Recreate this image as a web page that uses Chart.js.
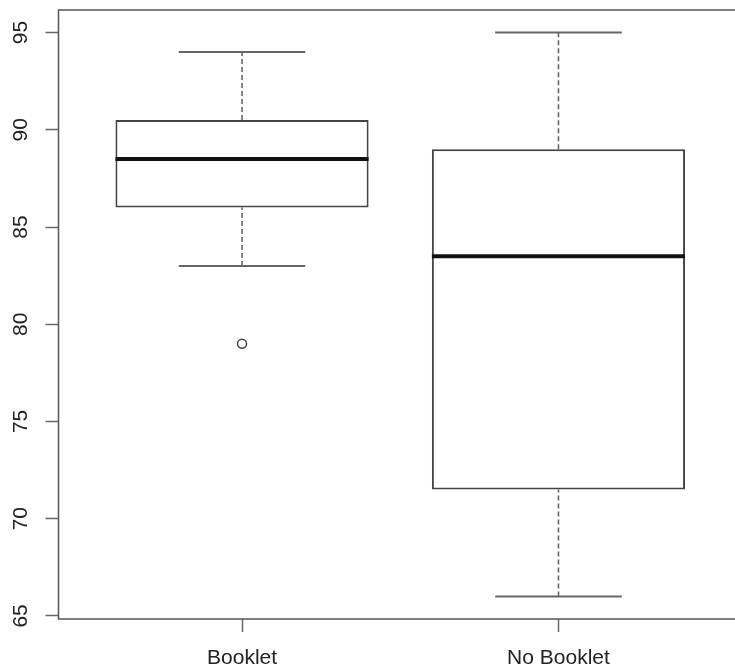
<!DOCTYPE html>
<html>
<head>
<meta charset="utf-8">
<script src="https://cdn.jsdelivr.net/npm/chart.js@4.4.1/dist/chart.umd.min.js"></script>
<style>
  html, body { margin: 0; padding: 0; overflow: hidden; background: #fff; }
  #wrap { width: 748px; height: 668px; position: relative; }
</style>
</head>
<body>
<div id="wrap"><canvas id="c"></canvas></div>
<script>
// ---- data ----
const categories   = ['Booklet', 'No Booklet'];
const whiskerLow   = [83, 66];
const q1           = [86, 71.5];
const medians      = [88.5, 83.5];
const q3           = [90.5, 89];
const whiskerHigh  = [94, 95];
const outliers     = [[79], []];
const yTicks       = [65, 70, 75, 80, 85, 90, 95];
const yMin = 64.84, yMax = 96.16;
const xMin = 0.42, xMax = 2.58;

const BOX_HALF = 0.4, CAP_HALF = 0.2;
const FONT = '"Liberation Sans", Arial, sans-serif';

function segments(makeSeg) {
  const pts = [];
  categories.forEach((c, i) => {
    const s = makeSeg(i, i + 1);
    if (pts.length) pts.push({ x: i + 0.5, y: null });
    pts.push(...s);
  });
  return pts;
}

const boxes = categories.map((c, i) => ({ x: i + 1, y: [q1[i], q3[i]] }));
const upperWhisk = segments((i, x) => [{ x, y: q3[i] }, { x, y: whiskerHigh[i] }]);
const lowerWhisk = segments((i, x) => [{ x, y: whiskerLow[i] }, { x, y: q1[i] }]);
const caps = segments((i, x) => [
  { x: x - CAP_HALF, y: whiskerHigh[i] }, { x: x + CAP_HALF, y: whiskerHigh[i] },
  { x: x, y: null },
  { x: x - CAP_HALF, y: whiskerLow[i] }, { x: x + CAP_HALF, y: whiskerLow[i] }
]);
const medianSegs = segments((i, x) => [{ x: x - BOX_HALF, y: medians[i] }, { x: x + BOX_HALF, y: medians[i] }]);
const outlierPts = [];
outliers.forEach((arr, i) => arr.forEach(v => outlierPts.push({ x: i + 1, y: v })));

const lineBase = { type: 'line', pointRadius: 0, pointHoverRadius: 0, spanGaps: false, fill: false, tension: 0 };

const frameAndLabels = {
  id: 'frameAndLabels',
  afterDraw(chart) {
    const { ctx, chartArea: a, scales: { y } } = chart;
    ctx.save();
    ctx.strokeStyle = '#555';
    ctx.lineWidth = 1.5;
    ctx.strokeRect(a.left, a.top, a.right - a.left, a.bottom - a.top);
    ctx.fillStyle = '#222';
    ctx.font = '21px ' + FONT;
    ctx.textAlign = 'center';
    ctx.textBaseline = 'middle';
    y.ticks.forEach(t => {
      const py = y.getPixelForValue(t.value);
      ctx.save();
      ctx.translate(20, py);
      ctx.rotate(-Math.PI / 2);
      ctx.fillText(String(t.value), 0, 1);
      ctx.restore();
    });
    ctx.restore();
  }
};

new Chart(document.getElementById('c'), {
  type: 'bar',
  data: {
    datasets: [
      { type: 'bar', data: boxes, backgroundColor: '#ffffff', borderColor: '#444', borderWidth: 2,
        borderSkipped: false, barPercentage: 1.0, categoryPercentage: 0.8, order: 3 },
      Object.assign({}, lineBase, { data: upperWhisk, borderColor: '#666', borderWidth: 1.6, borderDash: [5, 3], order: 4 }),
      Object.assign({}, lineBase, { data: lowerWhisk, borderColor: '#666', borderWidth: 1.6, borderDash: [5, 3], order: 4 }),
      Object.assign({}, lineBase, { data: caps, borderColor: '#666', borderWidth: 2, order: 4 }),
      Object.assign({}, lineBase, { data: medianSegs, borderColor: '#111', borderWidth: 4, order: 1 }),
      { type: 'line', data: outlierPts, showLine: false, pointRadius: 4.5, pointHoverRadius: 4.5,
        pointBackgroundColor: '#fff', pointBorderColor: '#444', pointBorderWidth: 1.5, order: 0 }
    ]
  },
  options: {
    responsive: true,
    maintainAspectRatio: false,
    animation: false,
    events: [],
    layout: { padding: { top: 10, right: 4, left: 0, bottom: 0 } },
    plugins: { legend: { display: false }, tooltip: { enabled: false } },
    scales: {
      x: {
        type: 'linear', min: xMin, max: xMax, offset: false,
        afterBuildTicks: s => { s.ticks = categories.map((c, i) => ({ value: i + 1 })); },
        afterFit: s => { s.height = 49; },
        grid: { display: true, drawOnChartArea: false, drawTicks: true, tickLength: 13, tickColor: '#666', tickWidth: 1.5, offset: false },
        border: { display: false },
        ticks: { autoSkip: false, maxRotation: 0, minRotation: 0, padding: 14, color: '#222',
          font: { size: 21, family: FONT },
          callback: v => categories[Math.round(v) - 1] }
      },
      y: {
        type: 'linear', min: yMin, max: yMax,
        afterBuildTicks: s => { s.ticks = yTicks.map(v => ({ value: v })); },
        afterFit: s => { s.width = 58.5; },
        grid: { display: true, drawOnChartArea: false, drawTicks: true, tickLength: 13, tickColor: '#666', tickWidth: 1.5 },
        border: { display: false },
        ticks: { display: false }
      }
    }
  },
  plugins: [frameAndLabels]
});
</script>
</body>
</html>
